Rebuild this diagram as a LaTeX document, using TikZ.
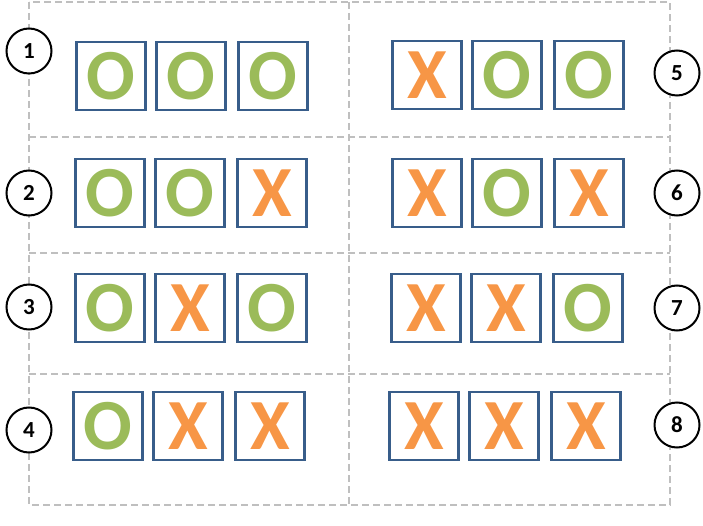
\documentclass[tikz,border=0pt]{standalone}
\usepackage{fontspec}
\setmainfont{Carlito}
\definecolor{cellgray}{HTML}{BFBFBF}
\definecolor{boxblue}{HTML}{385D8A}
\definecolor{ogreen}{HTML}{9BBB59}
\definecolor{xorange}{HTML}{F79646}
\newcommand\tileO{\textcolor{ogreen}{O}}
\newcommand\tileX{\textcolor{xorange}{X}}
\tikzset{
  cell/.style={draw=cellgray,line width=2pt,dash pattern=on 7pt off 4pt},
  slot/.style={draw=boxblue,line width=2.3pt,minimum width=69pt,minimum height=68pt,inner sep=0pt,
    font=\bfseries\fontsize{72}{72}\selectfont},
  num/.style={draw,circle,fill=white,line width=2pt,minimum size=45pt,inner sep=0pt,
    font=\bfseries\fontsize{23}{23}\selectfont}
}
\begin{document}
\begin{tikzpicture}[x=1pt,y=-1pt]
\useasboundingbox (0,0) rectangle (703,526);
% dashed cells
\draw[cell] (29,2) rectangle (670,505);
\draw[cell] (349,2) -- (349,505);
\foreach \y in {137,253,374}
\draw[cell] (29,\y) -- (670,\y);
% number circles
\foreach \n/\x/\y in {1/29/51,2/29/193,3/29/307,4/29/430,5/677/73,6/677/193,7/677/308,8/677/425}
\node[num] (n\n) at (\x,\y) {\n};
% tiles
\foreach \r/\xa/\y/\a/\b/\c in {1/111/76/O/O/O,2/110/193/O/O/X,3/110/308/O/X/O,4/108/426/O/X/X,
  5/427/75/X/O/O,6/427/193/X/O/X,7/426/308/X/X/O,8/424/426/X/X/X}
{
\node[slot] (t\r a) at (\xa,\y) {\csname tile\a\endcsname};
\node[slot] (t\r b) at (\xa+80,\y) {\csname tile\b\endcsname};
\node[slot] (t\r c) at (\xa+162,\y) {\csname tile\c\endcsname};
}
\end{tikzpicture}
\end{document}
